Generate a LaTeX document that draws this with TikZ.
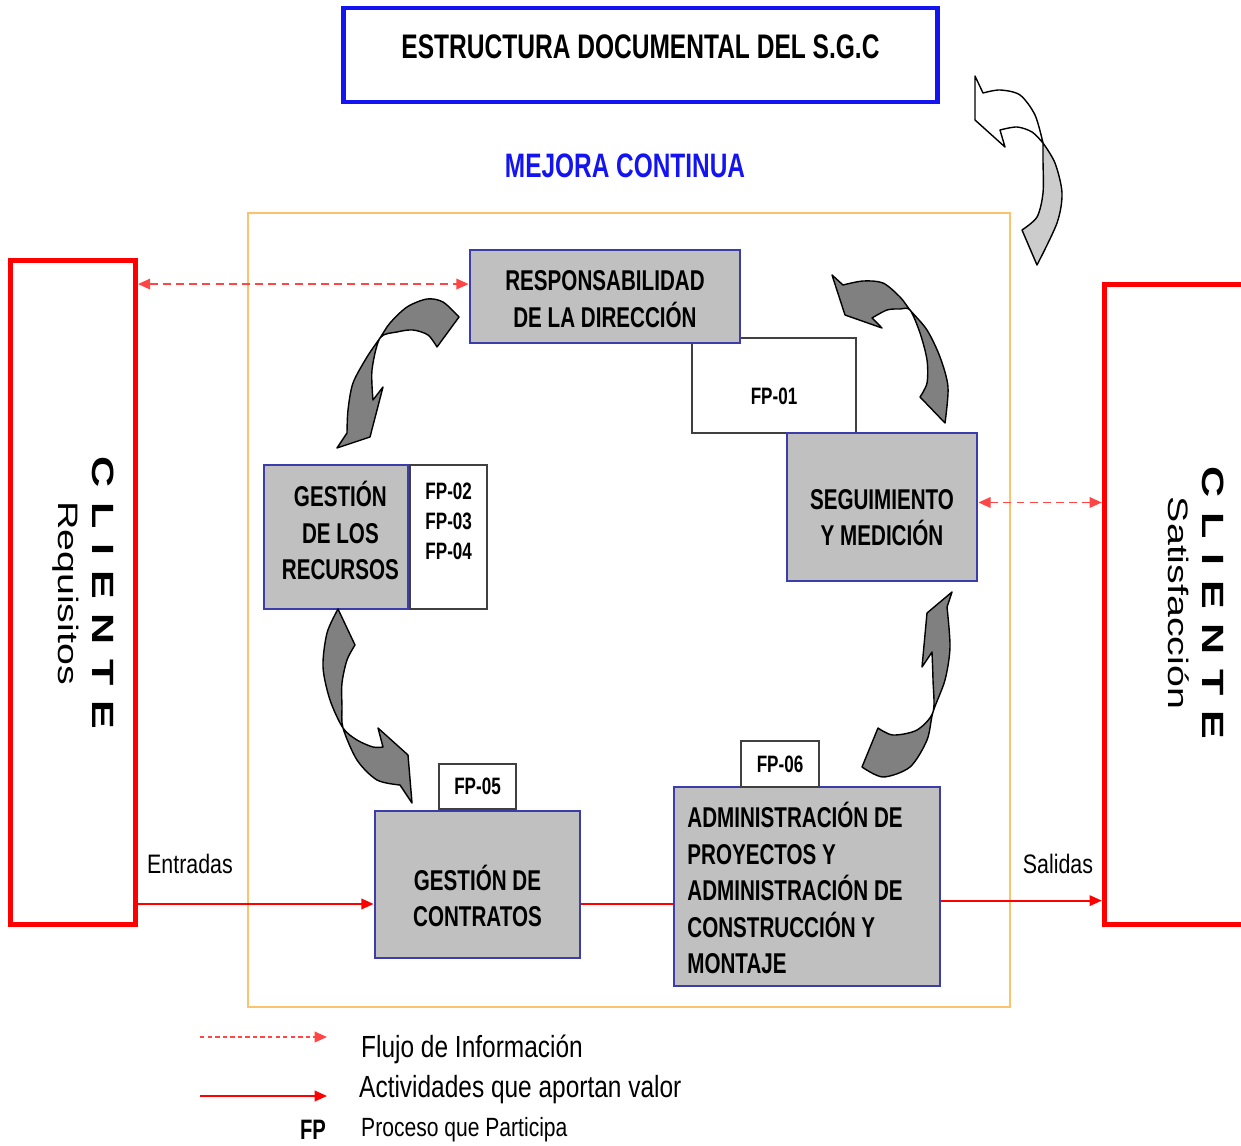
\documentclass[tikz,border=0pt]{standalone}
\usepackage{fontspec}
\setmainfont{Liberation Sans}
\newfontfamily\narrowbf[FakeStretch=0.72]{Liberation Sans}
\newfontfamily\narrowrm[FakeStretch=0.8]{Liberation Sans}
\newfontfamily\widesf[FakeStretch=1.4]{Liberation Sans}
\usetikzlibrary{arrows.meta,positioning,calc}
\definecolor{titulo}{RGB}{20,20,240}
\definecolor{procborde}{RGB}{60,60,170}
\definecolor{procgris}{RGB}{192,192,192}
\definecolor{flechagris}{RGB}{128,128,128}
\definecolor{marcocol}{RGB}{250,195,110}
\definecolor{inforojo}{RGB}{255,70,70}
\newcommand{\gap}{\hspace{8.4pt}}
\tikzset{
  proc/.style={draw=procborde, fill=procgris, line width=1.6pt, align=center, inner sep=0pt,
               font=\narrowbf\bfseries\fontsize{16.3}{20.8}\selectfont},
  fpbox/.style={draw=black!75, fill=white, line width=0.9pt, align=center, inner sep=0pt,
                font=\narrowbf\bfseries\fontsize{13.5}{17}\selectfont},
  proctxt/.style={proc, draw=none, fill=none},
  fptxt/.style={fpbox, draw=none, fill=none},
  clibox/.style={draw=red, line width=2.8pt, inner sep=0pt},
  clitext/.style={rotate=-90, align=center, font=\widesf\fontsize{16}{19.5}\selectfont},
  info/.style={draw=inforojo, line width=1.1pt, dash pattern=on 4.5pt off 3pt,
               {Triangle[length=7pt,width=6pt]}-{Triangle[length=7pt,width=6pt]}},
  valor/.style={draw=red, line width=1.1pt, -{Triangle[length=7pt,width=6pt]}},
  ciclo/.style={fill=flechagris, draw=black, line width=0.8pt, line join=round},
  lbl/.style={font=\narrowrm\fontsize{15.2}{18}\selectfont},
  leyenda/.style={anchor=west, font=\narrowrm\fontsize{17.4}{20}\selectfont}
}
\begin{document}
\begin{tikzpicture}[x=0.02cm, y=-0.02cm]
  \useasboundingbox (0,0) rectangle (1241,1146);
  % marco y titulo
  \node[draw=marcocol, line width=0.9pt, minimum width=15.24cm, minimum height=15.88cm] (marco) at (629,610) {};
  \node[draw=titulo, line width=2.8pt, minimum width=11.9cm, minimum height=1.88cm,
        label={[font=\narrowbf\bfseries\fontsize{19.4}{22}\selectfont, yshift=4.5pt]center:ESTRUCTURA DOCUMENTAL DEL S.G.C}] (titulo) at (640.5,55) {};
  \node[text=titulo, font=\narrowbf\bfseries\fontsize{19.3}{22}\selectfont] (mejora) at (625,166) {MEJORA CONTINUA};
  % procesos
  \node[fpbox, minimum width=3.28cm, minimum height=1.9cm, label={[fptxt, yshift=-6pt]center:FP-01}] (fp01) at (774,385.5) {};
  \node[proc, minimum width=5.4cm, minimum height=1.86cm,
        label={[proctxt, yshift=-1.5pt]center:RESPONSABILIDAD\\DE LA DIRECCIÓN}] (resp) at (605,296.5) {};
  \node[proc, minimum width=3.8cm, minimum height=2.96cm,
        label={[proctxt, yshift=-6pt]center:SEGUIMIENTO\\Y MEDICIÓN}] (seg) at (882,507) {};
  \node[proc, minimum width=2.88cm, minimum height=2.88cm,
        label={[proctxt, yshift=3.5pt, xshift=2.5pt]center:GESTIÓN\\DE LOS\\RECURSOS}] (rec) at (336,537) {};
  \node[fpbox, right=0pt of rec, minimum width=1.54cm, minimum height=2.88cm,
        label={[fptxt, yshift=8.8pt]center:FP-02\\FP-03\\FP-04}] (fp234) {};
  \node[proc, minimum width=4.1cm, minimum height=2.94cm,
        label={[proctxt, yshift=-6.5pt]center:GESTIÓN DE\\CONTRATOS}] (contr) at (477.5,884.5) {};
  \node[fpbox, above=0pt of contr, minimum width=1.54cm, minimum height=0.9cm] (fp05) {FP-05};
  \node[proc, minimum width=5.32cm, minimum height=3.98cm,
        label={[proctxt, align=left, xshift=-6.8pt, yshift=-1pt]center:ADMINISTRACIÓN DE\\PROYECTOS Y\\ADMINISTRACIÓN DE\\CONSTRUCCIÓN Y\\MONTAJE}] (adm) at (807,886.5) {};
  \node[fpbox, minimum width=1.56cm, minimum height=0.92cm] (fp06) at (780,764) {FP-06};
  % clientes
  \node[clibox, minimum width=2.5cm, minimum height=13.3cm] (cliL) at (73,592.5) {};
  \node[clitext] (reqtxt) at (83,593) {{\bfseries\fontsize{17.5}{19.5}\selectfont C\gap L\gap I\gap E\gap N\gap T\gap E}\\Requisitos};
  \node[clibox, minimum width=2.91cm, minimum height=12.81cm] (cliR) at (1177,604.75) {};
  \node[clitext] (sattxt) at (1196,603) {{\bfseries\fontsize{17.5}{19.5}\selectfont C\gap L\gap I\gap E\gap N\gap T\gap E}\\Satisfacción};
  % flujos
  \coordinate (inR) at ($(resp.north west)!0.37!(resp.south west)$);
  \coordinate (inS) at ($(seg.north east)!0.47!(seg.south east)$);
  \coordinate (vA) at ($(contr.north west)!0.63!(contr.south west)$);
  \coordinate (vB) at ($(adm.north east)!0.57!(adm.south east)$);
  \draw[info] (cliL.east |- inR) -- (inR);
  \draw[info] (inS) -- (cliR.west |- inS);
  \draw[valor] (cliL.east |- vA) -- (vA);
  \draw[red, line width=1.1pt] (contr.east |- vA) -- (adm.west |- vA);
  \draw[valor] (vB) -- (cliR.west |- vB);
  \node[lbl] (entradas) at (190,864) {Entradas};
  \node[lbl] (salidas) at (1058,864) {Salidas};
  % flechas del ciclo
  \filldraw[ciclo] (459,317)
    -- plot[smooth] coordinates {(459,317) (443,302) (427,299) (407,307) (390,323) (380,338) (367,357) (353,383) (348,410) (347,433)}
    -- (337,448) -- (370,437) -- (383,387) -- (373,400)
    -- plot[smooth] coordinates {(373,400) (372,370) (380,338) (397,332) (413,330) (428,335) (437,347)}
    -- cycle;
  \filldraw[ciclo] (945,423)
    -- plot[smooth] coordinates {(945,423) (948,387) (940,357) (927,330) (910,310) (900,297) (883,283) (863,281) (843,285)}
    -- (832,275) -- (845,315) -- (882,328) -- (872,318)
    -- plot[smooth] coordinates {(872,318) (887,310) (900,309) (910,310) (920,333) (927,360) (927,383) (920,397)}
    -- cycle;
  \filldraw[ciclo] (338,609)
    -- plot[smooth] coordinates {(338,609) (327,633) (323,667) (330,700) (343,728) (357,740) (373,747) (383,747)}
    -- (378,728) -- (408,755) -- (412,803) -- (400,785)
    -- plot[smooth] coordinates {(400,785) (377,780) (357,760) (343,728) (342,707) (342,683) (347,660) (355,645)}
    -- cycle;
  \filldraw[ciclo] (952,592)
    -- (927,613) -- (922,667) -- (932,652)
    -- plot[smooth] coordinates {(932,652) (933,680) (933,712) (917,730) (893,735) (878,728)}
    -- (862,767)
    -- plot[smooth] coordinates {(862,767) (883,777) (910,767) (927,740) (933,712) (945,680) (950,647) (947,607)}
    -- cycle;
  % mejora continua
  \filldraw[ciclo, fill=gray!40] (1043,143)
    -- plot[smooth] coordinates {(1043,143) (1055,163) (1062,193) (1057,223) (1037,265)}
    -- (1022,230)
    -- plot[smooth] coordinates {(1022,230) (1037,217) (1043,193) (1043,160) (1043,143)}
    -- cycle;
  \filldraw[ciclo, fill=white] (975,76) -- (983,93)
    -- plot[smooth] coordinates {(983,93) (1000,90) (1020,95) (1035,115) (1043,143)}
    -- plot[smooth] coordinates {(1043,143) (1032,132) (1017,127) (1000,130)}
    -- (1005,147) -- (975,120) -- cycle;
  % leyenda
  \coordinate (l1a) at (200,1037);
  \coordinate (l1b) at (327,1037);
  \coordinate (l2a) at (200,1096);
  \coordinate (l2b) at (327,1096);
  \draw[draw=inforojo, line width=1.1pt, dash pattern=on 2.5pt off 1.8pt, -{Triangle[length=7pt,width=6pt]}] (l1a) -- (l1b);
  \draw[valor] (l2a) -- (l2b);
  \node[leyenda] (ley1) at (355,1049) {Flujo de Información};
  \node[leyenda] (ley2) at (353,1090) {Actividades que aportan valor};
  \node[font=\narrowbf\bfseries\fontsize{16}{18}\selectfont] (fp) at (313,1130) {FP};
  \node[leyenda, font=\narrowrm\fontsize{15}{18}\selectfont] (ley3) at (355,1130) {Proceso que Participa};
\end{tikzpicture}
\end{document}
